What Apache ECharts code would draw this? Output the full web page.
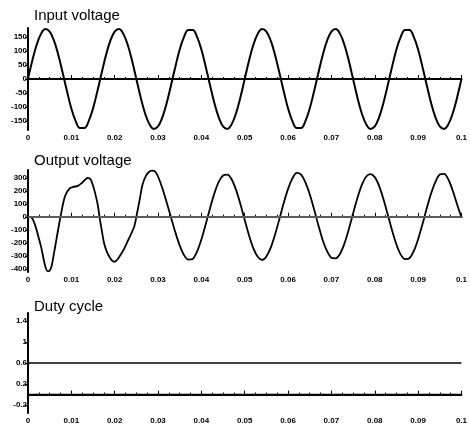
<!DOCTYPE html>
<html>
<head>
<meta charset="utf-8">
<script src="https://cdn.jsdelivr.net/npm/echarts@6/dist/echarts.min.js"></script>
<style>
  html, body, #main { margin: 0; padding: 0; width: 470px; height: 431px; background: #fff; overflow: hidden; }
</style>
</head>
<body>
<div id="main"></div>
<script>
// sample step of the input trace (s)
const inputStep = 0.001;
// input voltage read every 1 ms, 0 .. 0.1 s
const inputVoltage = [
  0, 66, 122, 161, 178, 169, 137, 86, 22, -44, -105, -150, -175, -175, -150, -105, -44,
  22, 86, 137, 169, 178, 161, 122, 66, 0, -66, -122, -161, -178, -169, -137, -86, -22,
  44, 105, 150, 175, 175, 150, 105, 44, -22, -86, -137, -169, -178, -161, -122, -66,
  0, 66, 122, 161, 178, 169, 137, 86, 22, -44, -105, -150, -175, -175, -150, -105, -44,
  22, 86, 137, 169, 178, 161, 122, 66, 0, -66, -122, -161, -178, -169, -137, -86, -22,
  44, 105, 150, 175, 175, 150, 105, 44, -22, -86, -137, -169, -178, -161, -122, -66, 0
];
// output voltage [t, v]
const outputVoltage = [
  [0, 0], [0.0008, -5], [0.0012, -25], [0.0018, -80], [0.0024, -153], [0.0031, -243],
  [0.0039, -371], [0.0045, -418], [0.0048, -418], [0.0054, -384], [0.006, -280],
  [0.0066, -166], [0.0075, 0], [0.0085, 154], [0.0096, 218], [0.0105, 230], [0.0115, 238],
  [0.0125, 262], [0.0138, 300], [0.0144, 290], [0.0149, 250], [0.0155, 180], [0.0161, 90],
  [0.0165, 0], [0.0171, -120], [0.0176, -210], [0.0182, -270], [0.0188, -310], [0.0194, -338],
  [0.0199, -346], [0.0204, -338], [0.021, -312], [0.0222, -245],
  [0.0233, -166], [0.0245, -77], [0.025, 0], [0.0257, 120], [0.0264, 244], [0.0272, 315],
  [0.0279, 345], [0.0286, 355], [0.0293, 350], [0.03, 310], [0.031, 220], [0.032, 110], [0.033, -5],
  [0.034, -120], [0.035, -220], [0.036, -295], [0.037, -330], [0.038, -325], [0.039, -268],
  [0.040, -175], [0.041, -58], [0.042, 66], [0.043, 180], [0.044, 269], [0.045, 318],
  [0.046, 324], [0.047, 287], [0.048, 207], [0.049, 98], [0.050, -25], [0.051, -144],
  [0.052, -243], [0.053, -308], [0.054, -332], [0.055, -305], [0.056, -238], [0.057, -137],
  [0.058, -17], [0.059, 106], [0.060, 215], [0.061, 295], [0.062, 338], [0.063, 325],
  [0.064, 265], [0.065, 173], [0.066, 58], [0.067, -66], [0.068, -180], [0.069, -265],
  [0.070, -315], [0.071, -320], [0.072, -285], [0.073, -207], [0.074, -98], [0.075, 25],
  [0.076, 144], [0.077, 243], [0.078, 308], [0.079, 328], [0.080, 305], [0.081, 238],
  [0.082, 137], [0.083, 17], [0.084, -106], [0.085, -213], [0.086, -291], [0.087, -326],
  [0.088, -319], [0.089, -265], [0.090, -173], [0.091, -58], [0.092, 66], [0.093, 180],
  [0.094, 269], [0.095, 325], [0.096, 330], [0.097, 287], [0.098, 200], [0.099, 95], [0.1, -5]
];
// duty cycle [t, d]
const dutyCycle = [[0, 0.6], [0.1, 0.6]];

const yTicks1 = [-150, -100, -50, 0, 50, 100, 150];
const yTicks2 = [-400, -300, -200, -100, 0, 100, 200, 300];
const yTicks3 = [-0.2, 0.2, 0.6, 1, 1.4];
const titles = ["Input voltage", "Output voltage", "Duty cycle"];

const labelFont = { fontFamily: "Liberation Sans Narrow, Liberation Sans, Arial", fontWeight: "bold", fontSize: 8, color: "#000" };

function xAxisFor(i) {
  return {
    type: "value", gridIndex: i, min: 0, max: 0.1, interval: 0.01,
    axisLine: { lineStyle: { color: "#000", width: 2 } },
    axisTick: { inside: true, length: 4, lineStyle: { color: "#000", width: 1 } },
    minorTick: { show: true, splitNumber: 4, length: 2, lineStyle: { color: "#000" } },
    axisLabel: Object.assign({ margin: 4 }, labelFont),
    splitLine: { show: false }
  };
}
function yAxisFor(i, min, max, ticks) {
  return {
    type: "value", gridIndex: i, min: min, max: max,
    axisLine: { show: true, lineStyle: { color: "#000", width: 2 } },
    axisTick: { show: true, length: 3, customValues: ticks, lineStyle: { color: "#000" } },
    axisLabel: Object.assign({ margin: 1, customValues: ticks }, labelFont),
    splitLine: { show: false }
  };
}
function zeroLine(color, width) {
  return {
    silent: true, symbol: "none", label: { show: false },
    lineStyle: { color: color, width: width, type: "solid" },
    data: [{ yAxis: 0 }]
  };
}

const myChart = echarts.init(document.getElementById("main"));
const option = {
  animation: false,
  backgroundColor: "#fff",
  title: titles.map((t, i) => ({
    text: t, left: 29, top: [3, 148, 294][i],
    textStyle: { fontFamily: "Liberation Sans, Arial", fontWeight: "normal", fontSize: 15, color: "#000" }
  })),
  grid: [
    { left: 28, right: 5, top: 28, height: 102 },
    { left: 28, right: 5, top: 170, height: 102 },
    { left: 28, right: 5, top: 313, height: 100 }
  ],
  xAxis: [xAxisFor(0), xAxisFor(1), xAxisFor(2)],
  yAxis: [
    yAxisFor(0, -182, 182, yTicks1),
    yAxisFor(1, -425, 360, yTicks2),
    yAxisFor(2, -0.35, 1.55, yTicks3)
  ],
  series: [
    {
      type: "line", xAxisIndex: 0, yAxisIndex: 0, symbol: "none", smooth: 0.4,
      lineStyle: { color: "#000", width: 2 },
      data: inputVoltage.map((v, i) => [i * inputStep, v]),
      markLine: zeroLine("#000", 2)
    },
    {
      type: "line", xAxisIndex: 1, yAxisIndex: 1, symbol: "none", smooth: 0.3,
      lineStyle: { color: "#000", width: 1.8 },
      data: outputVoltage,
      markLine: zeroLine("#7a7a7a", 1.5)
    },
    {
      type: "line", xAxisIndex: 2, yAxisIndex: 2, symbol: "none",
      lineStyle: { color: "#000", width: 1.3 },
      data: dutyCycle,
      markLine: zeroLine("#000", 1.3)
    }
  ]
};
myChart.setOption(option);
</script>
</body>
</html>
